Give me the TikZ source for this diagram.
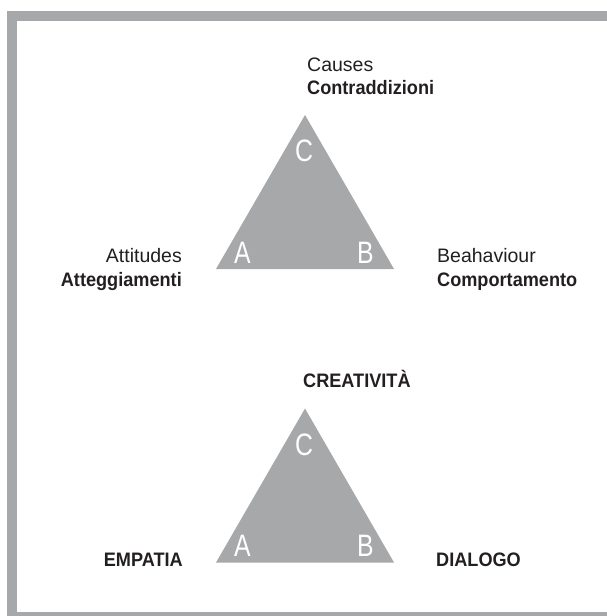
\documentclass[tikz,border=0pt]{standalone}
\usepackage{fontspec}
\setmainfont{Liberation Sans}[BoldFeatures={FakeStretch=0.93}]
\newfontfamily\cornerfont{Liberation Sans}[FakeStretch=0.8]
\usetikzlibrary{calc}
\definecolor{framegray}{HTML}{A7A8AA}
\definecolor{textgray}{HTML}{231F20}

\begin{document}
\begin{tikzpicture}[x=1pt,y=-1pt]

% Define styles
\tikzset{
    triangle/.style={fill=framegray, draw=none},
    corner/.style={text=white, inner sep=0pt, font=\cornerfont\fontsize{31}{31}\selectfont},
    caption/.style={text=textgray, inner sep=0pt, font=\fontsize{19.5}{23}\selectfont},
    captionbold/.style={caption, font=\fontsize{19.5}{23}\selectfont\bfseries}
}


% only the part of the page that is shown
\clip (0,0) rectangle (607,616);


% grey frame, open to the right
\draw[framegray, line width=10pt] (12.3,16) rectangle (625,616.7);


%corners of top triangle
\coordinate (A1) at (216,269);
\coordinate (B1) at (394,269);
\coordinate (C1) at (305,115);

%corners of bottom triangle
\coordinate (A2) at ($(A1)+(0,293.5)$);
\coordinate (B2) at ($(B1)+(0,293.5)$);
\coordinate (C2) at ($(C1)+(0,293.5)$);


% Top triangle
\fill[triangle] (A1) -- (B1) -- (C1) -- cycle;
\node[corner, anchor=base] (a1) at (242.5,263) {A};
\node[corner, anchor=base] (b1) at (365.5,263) {B};
\node[corner, anchor=base] (c1) at (304,161.7) {C};


% Bottom triangle
\fill[triangle] (A2) -- (B2) -- (C2) -- cycle;
\node[corner, anchor=base] (a2) at ($(a1.base)+(0,293.5)$) {A};
\node[corner, anchor=base] (b2) at ($(b1.base)+(0,293.5)$) {B};
\node[corner, anchor=base] (c2) at ($(c1.base)+(0,293.5)$) {C};



% labels of top triangle
\node[caption, anchor=base west] (causes) at (307,71) {Causes};
\node[captionbold, anchor=base west] (contra) at (307,94) {Contraddizioni};

\node[caption, anchor=base east] (attitudes) at (182,262) {Attitudes};
\node[captionbold, anchor=base east] (attegg) at (182,286) {Atteggiamenti};

\node[caption, anchor=base west] (behaviour) at (437,262) {Beahaviour};
\node[captionbold, anchor=base west] (comport) at (437,286) {Comportamento};



% labels of bottom triangle
\node[captionbold, anchor=base west] (creat) at (303,387) {CREATIVITÀ};
\node[captionbold, anchor=base east] (empatia) at (183,566.5) {EMPATIA};
\node[captionbold, anchor=base west] (dialogo) at (436,566.5) {DIALOGO};

\end{tikzpicture}
\end{document}
